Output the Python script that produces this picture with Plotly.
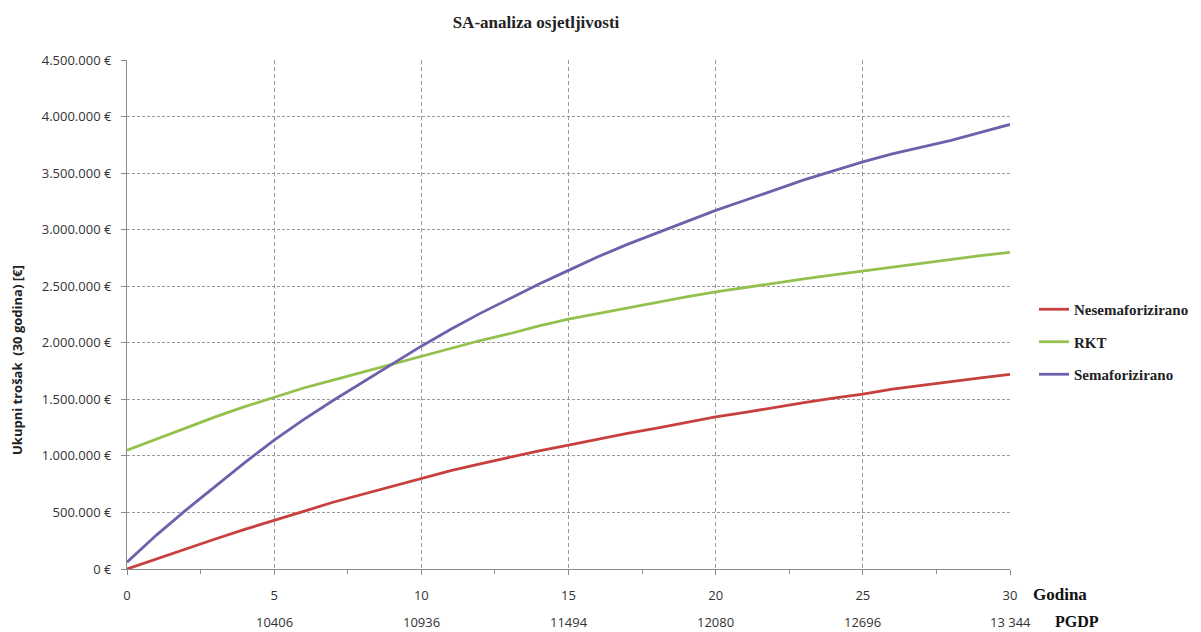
import plotly.graph_objects as go

years = list(range(0, 31))

nesemaforizirano = [0, 90000, 180000, 265000, 350000, 433000, 510000, 590000, 660000, 735000,
                    805000, 870000, 930000, 990000, 1045000, 1096000, 1150000, 1200000, 1245000,
                    1295000, 1345000, 1385000, 1430000, 1470000, 1510000, 1545000, 1590000,
                    1625000, 1660000, 1690000, 1720000]
rkt = [1050000, 1150000, 1250000, 1345000, 1435000, 1520000, 1600000, 1670000, 1740000, 1810000,
       1880000, 1950000, 2020000, 2080000, 2150000, 2210000, 2260000, 2310000, 2360000, 2405000,
       2450000, 2490000, 2530000, 2565000, 2600000, 2635000, 2670000, 2700000, 2735000, 2770000,
       2800000]
semaforizirano = [60000, 300000, 520000, 730000, 940000, 1140000, 1320000, 1490000, 1650000,
                  1810000, 1970000, 2120000, 2260000, 2390000, 2520000, 2640000, 2760000, 2870000,
                  2970000, 3070000, 3170000, 3260000, 3350000, 3440000, 3520000, 3600000, 3670000,
                  3730000, 3790000, 3860000, 3930000]

x_ticks = [0, 5, 10, 15, 20, 25, 30]
pgdp_years = [5, 10, 15, 20, 25, 30]
pgdp_labels = ["10406", "10936", "11494", "12080", "12696", "13 344"]

y_ticks = [0, 500000, 1000000, 1500000, 2000000, 2500000, 3000000, 3500000, 4000000, 4500000]
y_tick_labels = ["0 €", "500.000 €", "1.000.000 €", "1.500.000 €", "2.000.000 €", "2.500.000 €",
                 "3.000.000 €", "3.500.000 €", "4.000.000 €", "4.500.000 €"]

series = [
    ("Nesemaforizirano", nesemaforizirano, "#C8403D"),
    ("RKT", rkt, "#94C04E"),
    ("Semaforizirano", semaforizirano, "#7060AC"),
]

fig = go.Figure()
for i, (name, vals, col) in enumerate(series):
    fig.add_trace(go.Scatter(x=years, y=vals, mode="lines", name="<b>" + name + "</b>",
                             legendgroup=f"g{i}", line=dict(color=col, width=2.8)))

serif = "Liberation Serif"
sans = "Open Sans"

# page has an 8px body margin; figure drawn at (8, 8)
W, H = 1193, 624
PW, PH = 883, 509
fig.update_layout(
    width=W, height=H,
    paper_bgcolor="white", plot_bgcolor="white",
    margin=dict(l=119, r=191, t=52, b=63, autoexpand=False),
    title=dict(text="<b>SA-analiza osjetljivosti</b>", x=528 / W, xanchor="center",
               y=1 - 14 / H, yanchor="middle",
               font=dict(family=serif, size=17, color="#222222")),
    legend=dict(x=1 + 24 / PW, xanchor="left", y=1 - 233 / PH, yanchor="top",
                font=dict(family=serif, size=15, color="#222222"),
                tracegroupgap=10, traceorder="grouped", itemwidth=30),
    showlegend=True,
)

grid_col = "#9a9a9a"
fig.update_xaxes(
    range=[0, 30], tickvals=x_ticks, ticktext=[str(v) for v in x_ticks],
    showgrid=True, gridcolor=grid_col, griddash="4px,3px", gridwidth=1,
    showline=True, linecolor="#8a8a8a", linewidth=1,
    ticks="outside", ticklen=5, tickcolor="#8a8a8a",
    minor=dict(tickvals=[2.5, 7.5, 12.5, 17.5, 22.5, 27.5], ticks="outside", ticklen=4,
               tickcolor="#8a8a8a", showgrid=False),
    tickfont=dict(family=sans, size=13, color="#333333"),
    ticklabelstandoff=9,
    zeroline=False, automargin=False,
)
fig.update_yaxes(
    range=[0, 4500000], tickvals=y_ticks, ticktext=y_tick_labels,
    showgrid=True, gridcolor=grid_col, griddash="3px,2px", gridwidth=1,
    showline=True, linecolor="#8a8a8a", linewidth=1,
    ticks="outside", ticklen=5, tickcolor="#8a8a8a",
    tickfont=dict(family=sans, size=13, color="#333333"),
    ticklabelstandoff=7,
    zeroline=False, automargin=False,
)

# y-axis title placed as rotated text
fig.add_annotation(x=0, xref="paper", xshift=-110, y=(569 - 360) / PH, yref="paper",
                   text="<b>Ukupni trošak  (30 godina) [€]</b>", textangle=-90,
                   showarrow=False, xanchor="center", yanchor="middle",
                   font=dict(family=sans, size=13, color="#222222"))

for yr, lab in zip(pgdp_years, pgdp_labels):
    fig.add_annotation(x=yr, xref="x", y=0, yref="paper", yshift=-53, text=lab, showarrow=False,
                       font=dict(family=sans, size=13, color="#333333"), xanchor="center",
                       yanchor="middle")

fig.add_annotation(x=1.0, xref="paper", xshift=50, y=0, yref="paper", yshift=-25,
                   text="<b>Godina</b>", showarrow=False, xanchor="center", yanchor="middle",
                   font=dict(family=serif, size=17, color="#111111"))
fig.add_annotation(x=1.0, xref="paper", xshift=67, y=0, yref="paper", yshift=-52,
                   text="<b>PGDP</b>", showarrow=False, xanchor="center", yanchor="middle",
                   font=dict(family=serif, size=16, color="#111111"))

fig.write_html("out.html")
